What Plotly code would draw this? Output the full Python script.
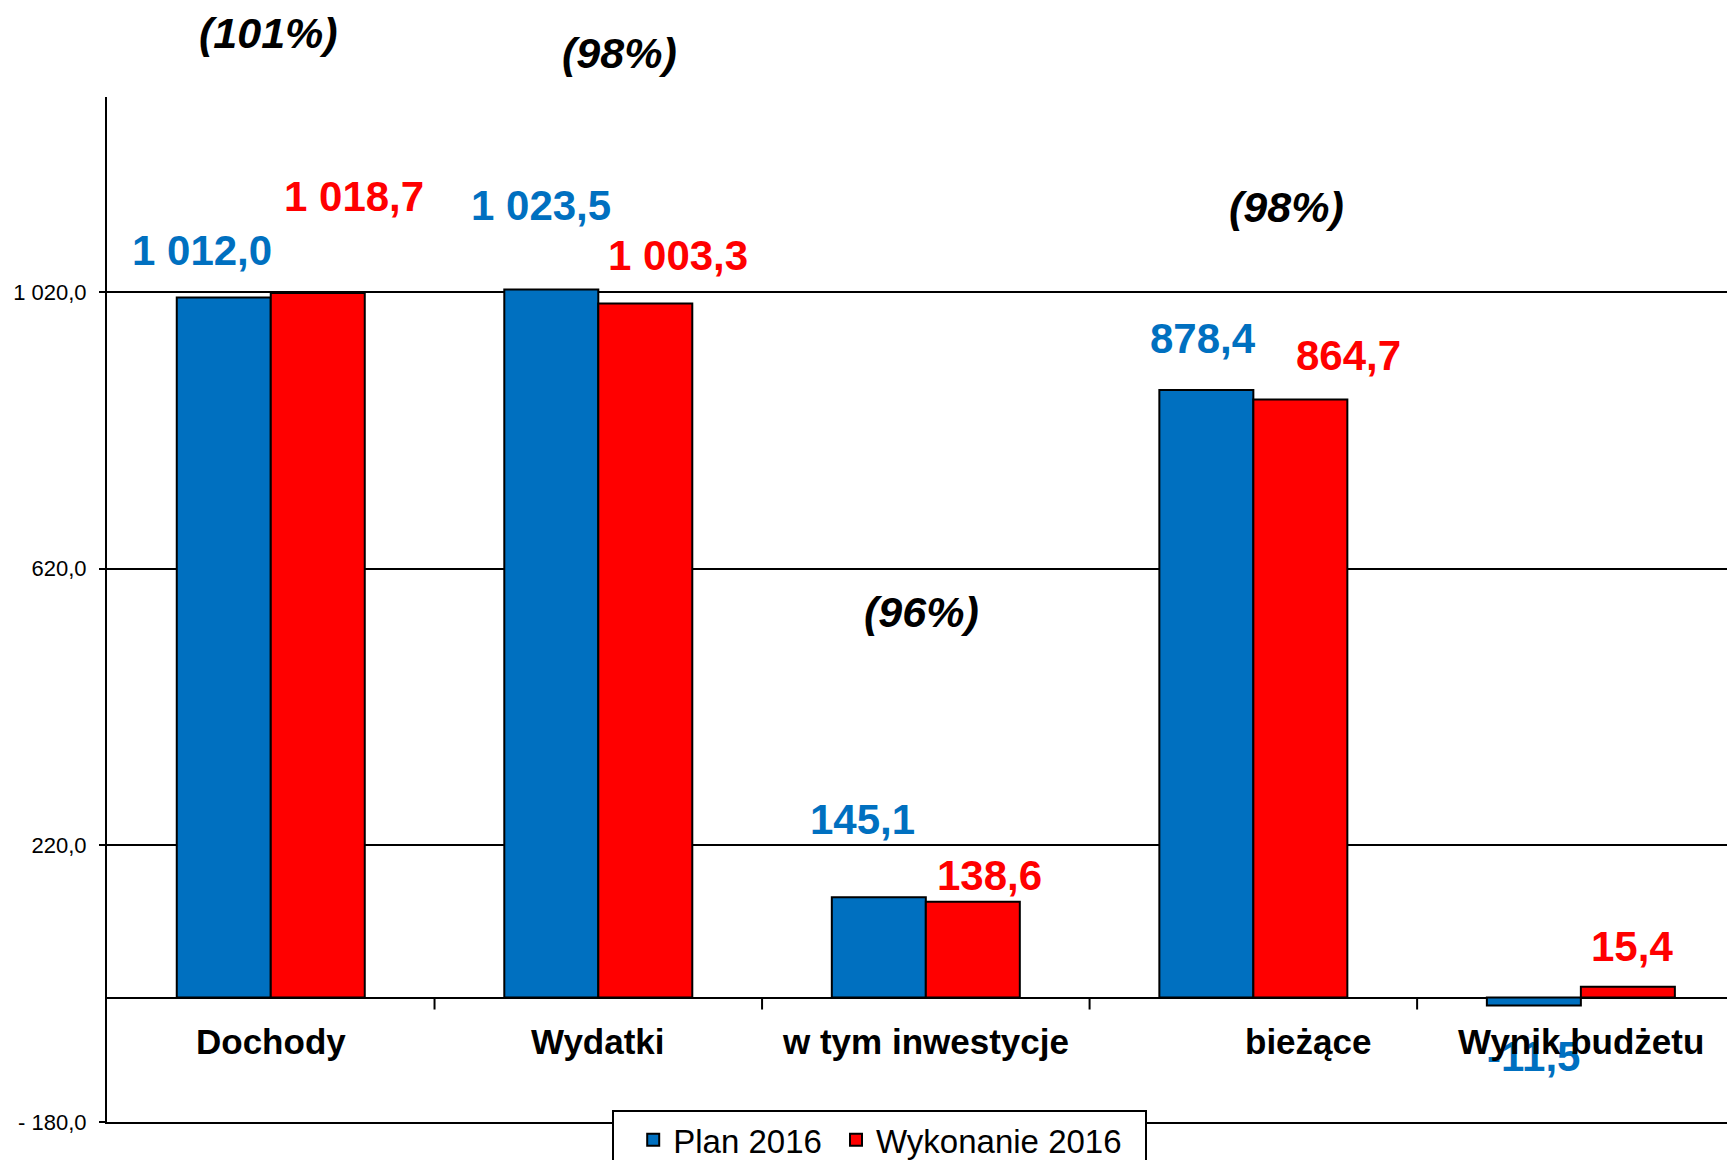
import plotly.graph_objects as go

# ---------------- data ----------------
categories = ["Dochody", "Wydatki", "w tym inwestycje", "bieżące", "Wynik budżetu"]
plan_2016 = [1012.0, 1023.5, 145.1, 878.4, -11.5]
wykonanie_2016 = [1018.7, 1003.3, 138.6, 864.7, 15.4]
pct_labels = ["(101%)", "(98%)", "(96%)", "(98%)", ""]
y_tickvals = [-180, 220, 620, 1020]
y_ticktext = ["- 180,0", "220,0", "620,0", "1 020,0"]

# ---------------- label placement (pixels) ----------------
plan_dx = [-68.6, -57.5, -63, -50, -47.6]
plan_dy = [47.5, 84, 77.5, 51, -51.5]
wyk_dx = [83, 79.7, 64, 95, 51]
wyk_dy = [96, 47.6, 26.5, 44, 40]
pct_dx = [-2, 21, -4, 33, 0]
pct_dy = [260, 236.5, 285, 183, 0]
cat_dx = [0, 0, 0, 55, 0]

BLUE = "#0070C0"
RED = "#FF0000"
FONT = "Liberation Sans, Arial, sans-serif"
NB = "\u00a0"


def fmt(v):
    s = f"{abs(v):,.1f}".replace(",", " ").replace(".", ",")
    return ("-" if v < 0 else "") + s


fig = go.Figure()
fig.add_trace(go.Bar(name="Plan 2016" + NB, x=categories, y=plan_2016,
                     marker=dict(color=BLUE, line=dict(color="black", width=2))))
fig.add_trace(go.Bar(name="Wykonanie 2016" + NB * 2, x=categories, y=wykonanie_2016,
                     marker=dict(color=RED, line=dict(color="black", width=2))))

ann = []
for i, c in enumerate(categories):
    ann.append(dict(x=c, y=plan_2016[i], xref="x", yref="y", text=fmt(plan_2016[i]),
                    showarrow=False, xshift=plan_dx[i], yshift=plan_dy[i],
                    xanchor="center", yanchor="middle",
                    font=dict(family=FONT, size=42, color=BLUE, weight="bold")))
    ann.append(dict(x=c, y=wykonanie_2016[i], xref="x", yref="y", text=fmt(wykonanie_2016[i]),
                    showarrow=False, xshift=wyk_dx[i], yshift=wyk_dy[i],
                    xanchor="center", yanchor="middle",
                    font=dict(family=FONT, size=42, color=RED, weight="bold")))
    if pct_labels[i]:
        ann.append(dict(x=c, y=max(plan_2016[i], wykonanie_2016[i]), xref="x", yref="y",
                        text=pct_labels[i], showarrow=False, xshift=pct_dx[i], yshift=pct_dy[i],
                        xanchor="center", yanchor="middle",
                        font=dict(family=FONT, size=43, color="black", weight="bold", style="italic")))
for i, c in enumerate(categories):
    ann.append(dict(x=c, y=0, xref="x", yref="y", text=c, showarrow=False,
                    xshift=cat_dx[i], yshift=-43.5, xanchor="center", yanchor="middle",
                    font=dict(family=FONT, size=35, color="black", weight="bold")))

shapes = []
for i in range(len(categories) - 1):
    shapes.append(dict(type="line", xref="x", yref="y", x0=i + 0.5, x1=i + 0.5,
                       ysizemode="pixel", yanchor=0, y0=0, y1=-12,
                       line=dict(color="black", width=2)))

fig.update_layout(
    width=1735, height=1160, autosize=False,
    margin=dict(l=99, r=0, t=89, b=46, autoexpand=False),
    paper_bgcolor="white", plot_bgcolor="white",
    barmode="group", bargap=0.426, bargroupgap=0,
    annotations=ann, shapes=shapes,
    showlegend=True,
    legend=dict(orientation="h", x=0.3087, y=0.012, xanchor="left", yanchor="top",
                bordercolor="black", borderwidth=2, bgcolor="white",
                title=dict(text=NB, side="left", font=dict(family=FONT, size=33)),
                font=dict(family=FONT, size=33, color="black")),
    font=dict(family=FONT, color="black"),
)
fig.update_xaxes(type="category", range=[-0.5, 4.495], showline=True, linecolor="black",
                 linewidth=2, showticklabels=False, ticks="", showgrid=False, zeroline=False)
fig.update_yaxes(range=[-180, 1302], tickvals=y_tickvals, ticktext=y_ticktext,
                 ticks="outside", ticklen=6, tickwidth=2, tickcolor="black",
                 showline=True, linecolor="black", linewidth=2,
                 showgrid=True, gridcolor="black", gridwidth=2,
                 zeroline=True, zerolinecolor="black", zerolinewidth=2,
                 tickfont=dict(family=FONT, size=22, color="black"),
                 ticklabelstandoff=8)

fig.write_html("out.html")
